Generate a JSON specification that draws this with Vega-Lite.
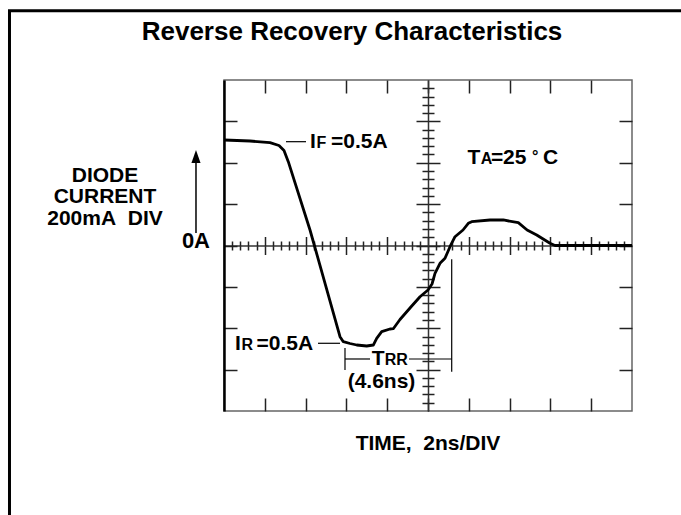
{
  "$schema": "https://vega.github.io/schema/vega-lite/v6.json",
  "width": 408,
  "height": 331,
  "autosize": "none",
  "padding": {"left": 224, "top": 80, "right": 49, "bottom": 104},
  "background": "white",
  "config": {
    "view": {"stroke": "#666", "strokeWidth": 1.5},
    "axis": {"grid": false, "labels": false, "domain": false, "tickColor": "#222", "tickWidth": 1.5, "domainColor": "#333", "domainWidth": 1.5, "title": null},
    "text": {"font": "Liberation Sans", "fontWeight": "bold", "color": "black"}
  },
  "layer": [
    {
      "data": {"values": [{"t": -10.515, "t2": 22.6, "i": 1.135, "i2": -1.45}]},
      "mark": {"type": "rect", "filled": false, "stroke": "black", "strokeWidth": 3},
      "encoding": {
        "x": {"field": "t", "type": "quantitative", "scale": {"domain": [0, 20], "nice": false, "zero": false}, "axis": null},
        "x2": {"field": "t2"},
        "y": {"field": "i", "type": "quantitative", "scale": {"domain": [-0.8, 0.8], "nice": false, "zero": false}, "axis": null},
        "y2": {"field": "i2"}
      }
    },
    {
      "data": {"values": [
        {"t": 0, "i": 0.51}, {"t": 1.275, "i": 0.5051}, {"t": 2.255, "i": 0.4969}, {"t": 2.696, "i": 0.4834},
        {"t": 2.941, "i": 0.4592}, {"t": 3.152, "i": 0.4051}, {"t": 4.216, "i": 0.0749}, {"t": 4.431, "i": 0},
        {"t": 5.686, "i": -0.4408}, {"t": 5.848, "i": -0.465}, {"t": 6.176, "i": -0.4737}, {"t": 6.505, "i": -0.481},
        {"t": 6.995, "i": -0.4858}, {"t": 7.319, "i": -0.481}, {"t": 7.485, "i": -0.4486}, {"t": 7.73, "i": -0.4167},
        {"t": 8.137, "i": -0.4036}, {"t": 8.299, "i": -0.4022}, {"t": 8.627, "i": -0.3577}, {"t": 9.118, "i": -0.3021},
        {"t": 9.608, "i": -0.2475}, {"t": 10.0, "i": -0.2151}, {"t": 10.196, "i": -0.1861}, {"t": 10.343, "i": -0.1344},
        {"t": 10.588, "i": -0.086}, {"t": 10.833, "i": -0.0619}, {"t": 11.078, "i": -0.0058}, {"t": 11.324, "i": 0.0425},
        {"t": 11.716, "i": 0.0749}, {"t": 11.975, "i": 0.1073}, {"t": 12.142, "i": 0.115}, {"t": 13.039, "i": 0.1233},
        {"t": 13.691, "i": 0.1233}, {"t": 14.426, "i": 0.1102}, {"t": 14.858, "i": 0.0749}, {"t": 15.328, "i": 0.0508},
        {"t": 15.98, "i": 0.0106}, {"t": 16.225, "i": 0}, {"t": 20, "i": 0}
      ]},
      "mark": {"type": "line", "color": "black", "strokeWidth": 2.8, "strokeJoin": "round"},
      "encoding": {
        "x": {"field": "t", "type": "quantitative", "scale": {"domain": [0, 20], "nice": false, "zero": false},
              "axis": {"orient": "bottom", "values": [2, 4, 6, 8, 10, 12, 14, 16, 18], "tickSize": -13}},
        "y": {"field": "i", "type": "quantitative", "scale": {"domain": [-0.8, 0.8], "nice": false, "zero": false},
              "axis": {"orient": "left", "values": [-0.6, -0.4, -0.2, 0, 0.2, 0.4, 0.6], "tickSize": -13, "domain": true, "domainColor": "black", "domainWidth": 2.5}}
      }
    },
    {
      "data": {"values": [
        {"t": 3.039, "t2": 4.02, "i": 0.5018, "i2": 0.5018},
        {"t": 4.608, "t2": 5.686, "i": -0.4727, "i2": -0.4727},
        {"t": 5.931, "t2": 5.931, "i": -0.4955, "i2": -0.6018},
        {"t": 5.931, "t2": 7.157, "i": -0.5486, "i2": -0.5486},
        {"t": 9.07, "t2": 11.162, "i": -0.5486, "i2": -0.5486},
        {"t": 11.162, "t2": 11.162, "i": -0.0667, "i2": -0.61}
      ]},
      "mark": {"type": "rule", "color": "black", "strokeWidth": 1.2},
      "encoding": {
        "x": {"field": "t", "type": "quantitative", "scale": {"domain": [0, 20], "nice": false, "zero": false},
              "axis": {"orient": "top", "values": [2, 4, 6, 8, 10, 12, 14, 16, 18], "tickSize": -13}},
        "x2": {"field": "t2"},
        "y": {"field": "i", "type": "quantitative", "scale": {"domain": [-0.8, 0.8], "nice": false, "zero": false},
              "axis": {"orient": "right", "values": [-0.6, -0.4, -0.2, 0, 0.2, 0.4, 0.6], "tickSize": -13}},
        "y2": {"field": "i2"}
      }
    },
    {
      "data": {"values": [{"t": -1.373, "i": 0.0604, "i2": 0.4157}]},
      "mark": {"type": "rule", "color": "black", "strokeWidth": 1.5},
      "encoding": {
        "x": {"field": "t", "type": "quantitative", "scale": {"domain": [0, 20], "nice": false, "zero": false},
              "axis": {"orient": "bottom", "offset": -165.5, "domain": true,
                       "values": [0.4,0.8,1.2,1.6,2,2.4,2.8,3.2,3.6,4,4.4,4.8,5.2,5.6,6,6.4,6.8,7.2,7.6,8,8.4,8.8,9.2,9.6,10,10.4,10.8,11.2,11.6,12,12.4,12.8,13.2,13.6,14,14.4,14.8,15.2,15.6,16,16.4,16.8,17.2,17.6,18,18.4,18.8,19.2,19.6],
                       "tickSize": {"condition": {"test": "abs(datum.value/2 - round(datum.value/2)) < 0.01", "value": 9}, "value": 4.5}}},
        "y": {"field": "i", "type": "quantitative", "scale": {"domain": [-0.8, 0.8], "nice": false, "zero": false},
              "axis": {"orient": "left", "offset": -204, "domain": true,
                       "values": [-0.76,-0.72,-0.68,-0.64,-0.6,-0.56,-0.52,-0.48,-0.44,-0.4,-0.36,-0.32,-0.28,-0.24,-0.2,-0.16,-0.12,-0.08,-0.04,0,0.04,0.08,0.12,0.16,0.2,0.24,0.28,0.32,0.36,0.4,0.44,0.48,0.52,0.56,0.6,0.64,0.68,0.72,0.76],
                       "tickSize": {"condition": {"test": "abs(datum.value*5 - round(datum.value*5)) < 0.01", "value": 12}, "value": 6}}},
        "y2": {"field": "i2"}
      }
    },
    {
      "data": {"values": [{"t": -1.373, "i": 0.4302}]},
      "mark": {"type": "point", "shape": "M0,-1L0.7,1L-0.7,1Z", "filled": true, "color": "black", "size": 169, "opacity": 1, "strokeWidth": 0},
      "encoding": {
        "x": {"field": "t", "type": "quantitative", "scale": {"domain": [0, 20], "nice": false, "zero": false},
              "axis": {"orient": "top", "offset": -165.5,
                       "values": [0.4,0.8,1.2,1.6,2,2.4,2.8,3.2,3.6,4,4.4,4.8,5.2,5.6,6,6.4,6.8,7.2,7.6,8,8.4,8.8,9.2,9.6,10,10.4,10.8,11.2,11.6,12,12.4,12.8,13.2,13.6,14,14.4,14.8,15.2,15.6,16,16.4,16.8,17.2,17.6,18,18.4,18.8,19.2,19.6],
                       "tickSize": {"condition": {"test": "abs(datum.value/2 - round(datum.value/2)) < 0.01", "value": 9}, "value": 4.5}}},
        "y": {"field": "i", "type": "quantitative", "scale": {"domain": [-0.8, 0.8], "nice": false, "zero": false},
              "axis": {"orient": "right", "offset": -204,
                       "values": [-0.76,-0.72,-0.68,-0.64,-0.6,-0.56,-0.52,-0.48,-0.44,-0.4,-0.36,-0.32,-0.28,-0.24,-0.2,-0.16,-0.12,-0.08,-0.04,0,0.04,0.08,0.12,0.16,0.2,0.24,0.28,0.32,0.36,0.4,0.44,0.48,0.52,0.56,0.6,0.64,0.68,0.72,0.76],
                       "tickSize": {"condition": {"test": "abs(datum.value*5 - round(datum.value*5)) < 0.01", "value": 12}, "value": 6}}}
      }
    },
    {
      "data": {"values": [
        {"t": 4.216, "i": 0.4698, "s": "I"}, {"t": 5.245, "i": 0.4698, "s": "=0.5A"},
        {"t": 11.941, "i": 0.394, "s": "T"}, {"t": 13.088, "i": 0.394, "s": "="}, {"t": 13.676, "i": 0.394, "s": "25"},
        {"t": 15.637, "i": 0.394, "s": "C"},
        {"t": 0.539, "i": -0.5051, "s": "I"}, {"t": 1.593, "i": -0.5051, "s": "=0.5A"},
        {"t": 7.24, "i": -0.5776, "s": "T"}
      ]},
      "mark": {"type": "text", "fontSize": 21, "align": "left", "baseline": "alphabetic"},
      "encoding": {
        "x": {"field": "t", "type": "quantitative", "scale": {"domain": [0, 20], "nice": false, "zero": false}, "axis": null},
        "y": {"field": "i", "type": "quantitative", "scale": {"domain": [-0.8, 0.8], "nice": false, "zero": false}, "axis": null},
        "text": {"field": "s"}
      }
    },
    {
      "data": {"values": [
        {"t": 4.534, "i": 0.4698, "s": "F"}, {"t": 12.58, "i": 0.394, "s": "A"},
        {"t": 15.098, "i": 0.4036, "s": "°"}, {"t": 0.858, "i": -0.5051, "s": "R"},
        {"t": 7.88, "i": -0.5776, "s": "RR"}
      ]},
      "mark": {"type": "text", "fontSize": 16, "align": "left", "baseline": "alphabetic"},
      "encoding": {
        "x": {"field": "t", "type": "quantitative", "scale": {"domain": [0, 20], "nice": false, "zero": false}, "axis": null},
        "y": {"field": "i", "type": "quantitative", "scale": {"domain": [-0.8, 0.8], "nice": false, "zero": false}, "axis": null},
        "text": {"field": "s"}
      }
    },
    {
      "data": {"values": [
        {"t": 7.721, "i": -0.689, "s": "(4.6ns)"},
        {"t": -5.833, "i": 0.3084, "s": "DIODE"},
        {"t": -5.833, "i": 0.204, "s": "CURRENT"},
        {"t": -5.833, "i": 0.0991, "s": "200mA\u00a0 DIV"},
        {"t": 10, "i": -0.9885, "s": "TIME,\u00a0 2ns/DIV"}
      ]},
      "mark": {"type": "text", "fontSize": 21, "align": "center", "baseline": "alphabetic"},
      "encoding": {
        "x": {"field": "t", "type": "quantitative", "scale": {"domain": [0, 20], "nice": false, "zero": false}, "axis": null},
        "y": {"field": "i", "type": "quantitative", "scale": {"domain": [-0.8, 0.8], "nice": false, "zero": false}, "axis": null},
        "text": {"field": "s"}
      }
    },
    {
      "data": {"values": [{"t": -0.686, "i": -0.0135, "s": "0A"}]},
      "mark": {"type": "text", "fontSize": 22, "align": "right", "baseline": "alphabetic"},
      "encoding": {
        "x": {"field": "t", "type": "quantitative", "scale": {"domain": [0, 20], "nice": false, "zero": false}, "axis": null},
        "y": {"field": "i", "type": "quantitative", "scale": {"domain": [-0.8, 0.8], "nice": false, "zero": false}, "axis": null},
        "text": {"field": "s"}
      }
    },
    {
      "data": {"values": [{"t": 6.275, "i": 0.9934, "s": "Reverse Recovery Characteristics"}]},
      "mark": {"type": "text", "fontSize": 26, "align": "center", "baseline": "alphabetic"},
      "encoding": {
        "x": {"field": "t", "type": "quantitative", "scale": {"domain": [0, 20], "nice": false, "zero": false}, "axis": null},
        "y": {"field": "i", "type": "quantitative", "scale": {"domain": [-0.8, 0.8], "nice": false, "zero": false}, "axis": null},
        "text": {"field": "s"}
      }
    }
  ],
  "resolve": {"axis": {"x": "independent", "y": "independent"}}
}
